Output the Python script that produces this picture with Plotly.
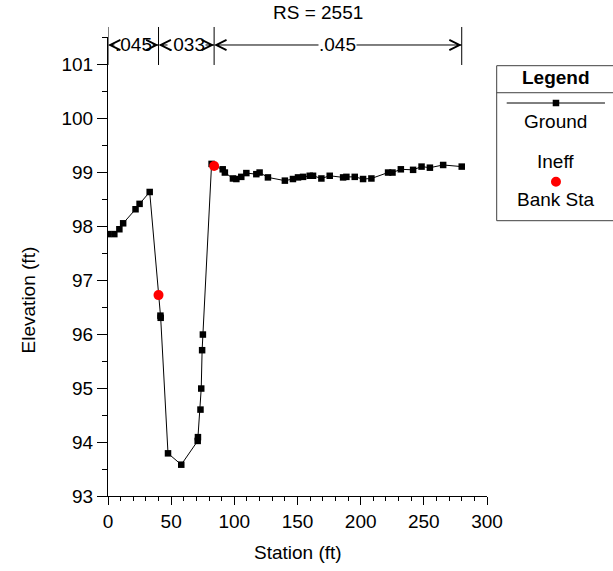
import plotly.graph_objects as go

# Cross section RS = 2551: ground survey points (station ft, elevation ft)
ground_sta = [0, 5, 9, 12, 21.8, 25, 33, 40, 41.5, 41.7, 47.5, 58, 71, 71.2,
              73.2, 73.8, 74.5, 75.1, 82, 84, 90.8, 92.5, 98.9, 101.6, 105.5,
              109.5, 117.4, 120, 126.6, 140, 146.4, 150.4, 154.4, 159.7, 162.3,
              168.9, 175.5, 186.1, 188.7, 195.3, 201.9, 208.5, 221.7, 225.2,
              231.8, 241.5, 248.2, 254.8, 265.3, 280]
ground_elev = [97.85, 97.85, 97.94, 98.05, 98.31, 98.41, 98.63, 96.72, 96.34,
               96.30, 93.79, 93.58, 94.02, 94.09, 94.60, 94.99, 95.70, 95.99,
               99.15, 99.11, 99.05, 98.99, 98.88, 98.87, 98.91, 98.98, 98.96,
               98.99, 98.90, 98.84, 98.87, 98.90, 98.91, 98.93, 98.93, 98.88,
               98.93, 98.90, 98.91, 98.91, 98.87, 98.88, 98.99, 98.99, 99.05,
               99.04, 99.10, 99.08, 99.13, 99.10]

# Bank stations
bank_sta = [40, 84]
bank_elev = [96.72, 99.11]

# Manning's n breaks and values
n_sta = [0, 40, 84, 280]
n_val = [".045", ".033", ".045"]

FONT = "Liberation Sans, Arial, sans-serif"
FS = 19
N_Y = 0.9826

fig = go.Figure()
fig.add_trace(go.Scatter(
    x=ground_sta, y=ground_elev, mode="lines+markers", name="Ground",
    line=dict(color="black", width=1),
    marker=dict(symbol="square", size=6.5, color="black"),
    showlegend=False))
fig.add_trace(go.Scatter(
    x=bank_sta, y=bank_elev, mode="markers", name="Bank Sta",
    marker=dict(symbol="circle", size=10, color="#ff0000"),
    showlegend=False))

shapes = []
annotations = []

# n-value break bars above the plot
for s in n_sta:
    shapes.append(dict(type="line", xref="x", yref="paper", x0=s, x1=s,
                       y0=0.939, y1=1.0218, line=dict(color="black", width=1)))
# n-value extent lines (drawn first, labels sit on a white box over them)
for i, v in enumerate(n_val):
    a, b = n_sta[i], n_sta[i + 1]
    annotations.append(dict(
        x=b, y=N_Y, xref="x", yref="paper", ax=a, ay=0, axref="x",
        ayref="pixel", text="", showarrow=True, arrowhead=0,
        arrowwidth=1, arrowcolor="black", standoff=0, startstandoff=0))
for i, v in enumerate(n_val):
    a, b = n_sta[i], n_sta[i + 1]
    annotations.append(dict(
        x=(a + b) / 2, y=N_Y, xref="x", yref="paper", text=v,
        showarrow=False, bgcolor="white", borderpad=0,
        font=dict(family=FONT, size=FS, color="black"),
        xanchor="center", yanchor="middle"))
# open chevrons at each end of every n-value extent, on top of the labels
for i in range(len(n_val)):
    a, b = n_sta[i], n_sta[i + 1]
    for tip, off in ((a, 6), (b, -6)):
        annotations.append(dict(
            x=tip, y=N_Y, xref="x", yref="paper", ax=off, ay=0,
            axref="pixel", ayref="pixel", text="", showarrow=True,
            arrowhead=5, arrowsize=2.0, arrowwidth=1, arrowcolor="black",
            standoff=0))

# Title and axis titles
annotations.append(dict(x=0.554, y=1.0523, xref="paper", yref="paper",
                        text="RS = 2551", showarrow=False,
                        font=dict(family=FONT, size=FS, color="black"),
                        xanchor="center", yanchor="middle"))
annotations.append(dict(x=0.501, y=-0.124, xref="paper", yref="paper",
                        text="Station (ft)", showarrow=False,
                        font=dict(family=FONT, size=FS, color="black"),
                        xanchor="center", yanchor="middle"))
annotations.append(dict(x=-0.21, y=0.427, xref="paper", yref="paper",
                        text="Elevation (ft)", showarrow=False, textangle=-90,
                        font=dict(family=FONT, size=FS, color="black"),
                        xanchor="center", yanchor="middle"))

# Legend panel
box = dict(color="#404040", width=1)
shapes.append(dict(type="rect", xref="paper", yref="paper", x0=1.0256,
                   x1=1.38, y0=0.5998, y1=0.9375, line=box,
                   fillcolor="white"))
shapes.append(dict(type="line", xref="paper", yref="paper", x0=1.0256,
                   x1=1.38, y0=0.8786, y1=0.8786, line=box))
shapes.append(dict(type="line", xref="paper", yref="paper", x0=1.052,
                   x1=1.3113, y0=0.8562, y1=0.8562,
                   line=dict(color="black", width=1)))
shapes.append(dict(type="rect", xref="paper", yref="paper",
                   x0=1.182 - 0.0086, x1=1.182 + 0.0086,
                   y0=0.8562 - 0.0071, y1=0.8562 + 0.0071,
                   line=dict(width=0), fillcolor="black"))
shapes.append(dict(type="circle", xref="paper", yref="paper",
                   x0=1.182 - 0.0132, x1=1.182 + 0.0132,
                   y0=0.6848 - 0.0109, y1=0.6848 + 0.0109,
                   line=dict(width=0), fillcolor="#ff0000"))
for txt, yy, bold in [("Legend", 0.9107, True), ("Ground", 0.8155, False),
                      ("Ineff", 0.7277, False), ("Bank Sta", 0.6449, False)]:
    annotations.append(dict(x=1.182, y=yy, xref="paper", yref="paper",
                            text=f"<b>{txt}</b>" if bold else txt,
                            showarrow=False, xanchor="center",
                            yanchor="middle",
                            font=dict(family=FONT, size=FS, color="black")))

fig.update_layout(
    width=613, height=571,
    margin=dict(l=108, r=126, t=37, b=75),
    paper_bgcolor="white", plot_bgcolor="white",
    font=dict(family=FONT, size=FS, color="black"),
    shapes=shapes, annotations=annotations,
    xaxis=dict(range=[0, 300], dtick=50, tick0=0, ticks="outside", ticklen=8,
               tickcolor="black", showline=True, linecolor="black",
               linewidth=1, showgrid=False, zeroline=False,
               tickfont=dict(family=FONT, size=FS, color="black"),
               minor=dict(dtick=10, ticks="outside", ticklen=4,
                          tickcolor="black", showgrid=False)),
    yaxis=dict(range=[93, 101.5], dtick=1, tick0=93, ticks="outside",
               ticklen=10, tickcolor="black", showline=True,
               linecolor="black", linewidth=1, showgrid=False,
               zeroline=False,
               tickfont=dict(family=FONT, size=FS, color="black"),
               minor=dict(dtick=0.5, ticks="outside", ticklen=5,
                          tickcolor="black", showgrid=False)),
)

fig.write_html("out.html")
